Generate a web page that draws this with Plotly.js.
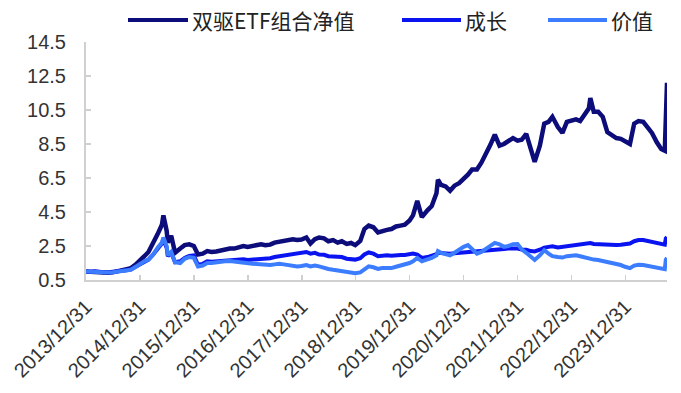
<!DOCTYPE html>
<html>
<head>
<meta charset="utf-8">
<script src="https://cdn.plot.ly/plotly-3.0.1.min.js"></script>
<style>html,body{margin:0;padding:0;background:#fff;}#chart{width:681px;height:393px;}</style>
</head>
<body>
<div id="chart"></div>
<script>
var seriesNames = ['双驱ETF组合净值', '成长', '价值'];
var seriesColors = ['#0c0c7a', '#0a14f0', '#3c7dff'];

var dates = [
 '2013-12-31',
 '2014-01-31','2014-02-28','2014-03-31','2014-04-30','2014-05-30','2014-06-30','2014-07-31','2014-08-29','2014-09-30','2014-10-31','2014-11-28','2014-12-31',
 '2015-01-30','2015-02-27','2015-03-31','2015-04-30','2015-05-29','2015-06-08','2015-06-30','2015-07-08','2015-07-31','2015-08-26','2015-09-30','2015-10-30','2015-11-30','2015-12-31',
 '2016-01-28','2016-02-29','2016-03-31','2016-04-29','2016-05-31','2016-06-30','2016-07-29','2016-08-31','2016-09-30','2016-10-31','2016-11-30','2016-12-30',
 '2017-01-31','2017-02-28','2017-03-31','2017-04-28','2017-05-31','2017-06-30','2017-07-31','2017-08-31','2017-09-29','2017-10-31','2017-11-30','2017-12-29',
 '2018-01-31','2018-02-28','2018-03-30','2018-04-27','2018-05-31','2018-06-29','2018-07-31','2018-08-31','2018-09-28','2018-10-31','2018-11-30','2018-12-28',
 '2019-01-31','2019-02-28','2019-03-29','2019-04-30','2019-05-31','2019-06-28','2019-07-31','2019-08-30','2019-09-30','2019-10-31','2019-11-29','2019-12-31',
 '2020-01-23','2020-02-21','2020-03-23','2020-04-30','2020-05-29','2020-06-30','2020-07-10','2020-07-31','2020-08-31','2020-09-30','2020-10-30','2020-11-30','2020-12-31',
 '2021-01-29','2021-02-26','2021-03-31','2021-04-30','2021-05-31','2021-06-30','2021-07-30','2021-08-31','2021-09-30','2021-10-29','2021-11-30','2021-12-31',
 '2022-01-28','2022-02-28','2022-03-31','2022-04-26','2022-05-31','2022-06-30','2022-07-29','2022-08-24','2022-09-30','2022-10-31','2022-11-30','2022-12-30',
 '2023-01-31','2023-02-28','2023-03-31','2023-04-28','2023-05-08','2023-05-31','2023-06-30','2023-07-31','2023-08-31','2023-09-28','2023-10-31','2023-11-30','2023-12-29',
 '2024-01-31','2024-02-29','2024-03-29','2024-04-30','2024-05-31','2024-06-28','2024-07-31','2024-08-30','2024-09-23','2024-09-30','2024-10-08'
];

var etfNav = [
 1.00,
 0.98,1.02,0.94,0.92,0.93,0.95,1.02,1.05,1.12,1.20,1.38,1.62,
 1.90,2.15,2.65,3.20,3.75,4.30,3.40,2.70,3.10,2.10,2.35,2.55,2.60,2.50,
 2.00,2.05,2.20,2.15,2.18,2.25,2.30,2.35,2.35,2.40,2.50,2.45,
 2.50,2.58,2.60,2.55,2.58,2.70,2.75,2.82,2.80,2.90,2.85,2.88,
 3.00,2.65,2.90,3.00,2.95,2.78,2.85,2.70,2.78,2.62,2.68,2.55,
 2.80,3.50,3.70,3.60,3.30,3.40,3.45,3.50,3.65,3.70,3.75,4.00,
 4.30,5.15,4.20,4.60,4.85,5.60,6.40,6.10,6.00,5.75,6.05,6.20,6.45,
 6.70,7.00,7.00,7.40,7.90,8.45,9.05,8.40,8.50,8.70,8.85,8.70,
 8.75,9.10,8.30,7.45,8.40,9.70,9.80,10.10,9.50,9.15,9.80,9.90,
 9.95,9.85,10.20,10.60,11.20,10.40,10.40,10.10,9.20,9.00,8.85,8.80,8.65,
 8.50,9.70,9.85,9.80,9.50,9.15,8.60,8.20,8.10,11.20,12.10
];

var growth = [
 1.00,
 0.97,1.02,0.96,0.95,0.95,0.97,1.00,1.02,1.07,1.12,1.25,1.42,
 1.55,1.70,2.00,2.30,2.65,2.90,2.40,1.90,2.10,1.55,1.60,1.80,1.92,1.95,
 1.40,1.45,1.60,1.58,1.60,1.65,1.66,1.70,1.68,1.70,1.72,1.68,
 1.70,1.74,1.76,1.75,1.78,1.85,1.90,1.95,2.00,2.05,2.08,2.10,
 2.15,2.05,2.10,2.00,1.98,1.90,1.90,1.85,1.85,1.75,1.72,1.70,
 1.78,2.00,2.12,2.05,1.90,1.95,1.95,1.92,1.96,1.97,1.97,2.02,
 2.05,2.00,1.80,1.85,1.92,2.02,2.10,2.08,2.08,2.05,2.08,2.10,2.10,
 2.12,2.15,2.15,2.18,2.22,2.26,2.28,2.30,2.32,2.35,2.38,2.35,
 2.30,2.28,2.20,2.18,2.28,2.40,2.45,2.48,2.42,2.45,2.50,2.50,
 2.55,2.58,2.60,2.65,2.67,2.62,2.60,2.60,2.56,2.55,2.56,2.58,2.60,
 2.65,2.78,2.85,2.85,2.80,2.75,2.70,2.62,2.58,2.95,3.02
];

var value = [
 1.00,
 0.98,1.00,0.95,0.95,0.94,0.96,1.00,1.02,1.08,1.10,1.25,1.45,
 1.60,1.70,2.00,2.40,2.70,3.00,2.50,1.95,2.15,1.55,1.50,1.75,1.85,1.80,
 1.30,1.35,1.50,1.50,1.55,1.60,1.60,1.62,1.58,1.55,1.55,1.50,
 1.46,1.44,1.40,1.40,1.38,1.42,1.45,1.42,1.38,1.35,1.30,1.32,
 1.38,1.30,1.35,1.30,1.25,1.15,1.10,1.05,1.00,0.95,0.95,0.90,
 0.95,1.15,1.30,1.25,1.15,1.20,1.20,1.20,1.28,1.35,1.40,1.50,
 1.60,1.80,1.60,1.70,1.80,1.95,2.20,2.10,2.05,1.95,2.10,2.30,2.45,
 2.55,2.30,2.05,2.15,2.35,2.55,2.68,2.60,2.45,2.50,2.60,2.62,
 2.30,2.10,1.85,1.68,1.95,2.25,2.05,1.90,1.85,1.82,1.90,1.95,
 1.95,1.90,1.82,1.75,1.72,1.70,1.68,1.62,1.58,1.52,1.45,1.38,1.28,
 1.20,1.35,1.40,1.38,1.32,1.25,1.20,1.15,1.14,1.70,1.80
];

var yTicks = [0.5, 2.5, 4.5, 6.5, 8.5, 10.5, 12.5, 14.5];
var xTicks = ['2013-12-31','2014-12-31','2015-12-31','2016-12-31','2017-12-31','2018-12-31',
              '2019-12-31','2020-12-31','2021-12-31','2022-12-31','2023-12-31'];

var allValues = [etfNav, growth, value];
var widths = [4.5, 4, 4];
var traces = allValues.map(function (v, i) {
  return {
    type: 'scatter', mode: 'lines', x: dates, y: v, name: seriesNames[i],
    line: {color: seriesColors[i], width: widths[i]}, hoverinfo: 'skip'
  };
});

// custom legend (long line samples as in the reference)
var plotL = 86, plotR = 667, plotT = 42, plotB = 280;
function px2paperX(p) { return (p - plotL) / (plotR - plotL); }
function px2paperY(p) { return (plotB - p) / (plotB - plotT); }
var legendItems = [
  {x0: 128, x1: 188, tx: 190},
  {x0: 402, x1: 461, tx: 463},
  {x0: 548, x1: 607, tx: 609}
];
var legY = px2paperY(20);
var shapes = legendItems.map(function (it, i) {
  return {type: 'line', xref: 'paper', yref: 'paper', x0: px2paperX(it.x0), x1: px2paperX(it.x1),
          y0: legY, y1: legY, line: {color: seriesColors[i], width: 4}};
});
var annotations = legendItems.map(function (it, i) {
  return {xref: 'paper', yref: 'paper', x: px2paperX(it.tx), y: legY, xanchor: 'left', yanchor: 'middle',
          text: seriesNames[i], showarrow: false,
          font: {family: '"Noto Sans CJK SC", "Liberation Sans", sans-serif', size: 21, color: '#222'}};
});

var tickFont = {family: '"Liberation Sans", Arial, sans-serif', size: 20, color: '#333'};
var layout = {
  width: 681, height: 393,
  margin: {l: plotL, r: 681 - plotR, t: plotT, b: 393 - plotB},
  paper_bgcolor: '#fff', plot_bgcolor: '#fff',
  showlegend: false,
  xaxis: {
    type: 'date', range: ['2013-12-31', '2024-10-08'],
    tickmode: 'array', tickvals: xTicks, tickformat: '%Y/%m/%d', tickangle: -45,
    ticks: 'inside', ticklen: 5, tickwidth: 1.5, tickcolor: '#d0d0d0',
    showline: true, linecolor: '#d0d0d0', linewidth: 2,
    showgrid: false, zeroline: false, tickfont: tickFont, ticklabelstandoff: 5
  },
  yaxis: {
    range: [0.5, 14.5], tickmode: 'array', tickvals: yTicks, tickformat: '.1f',
    ticks: 'inside', ticklen: 5, tickwidth: 1.5, tickcolor: '#d0d0d0',
    showline: true, linecolor: '#d0d0d0', linewidth: 2,
    showgrid: false, zeroline: false, tickfont: tickFont, ticklabelstandoff: 14
  },
  shapes: shapes,
  annotations: annotations
};

Plotly.newPlot('chart', traces, layout, {staticPlot: true, displayModeBar: false});
</script>
</body>
</html>
